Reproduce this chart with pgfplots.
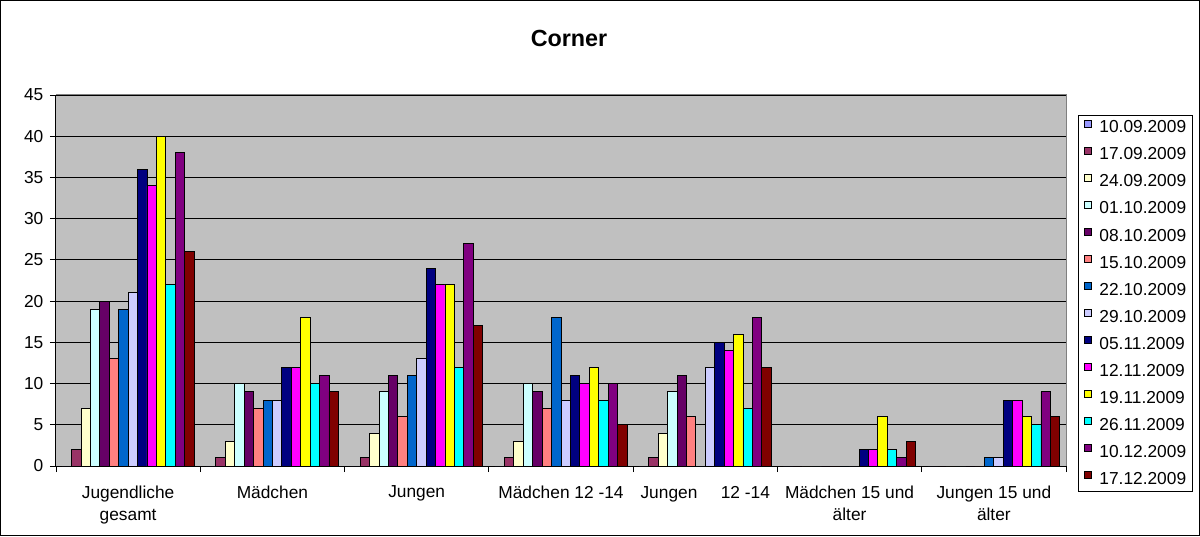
\documentclass[border=0pt]{standalone}
\usepackage{pgfplots}
\pgfplotsset{compat=1.18}
\usepackage{fontspec}
\setmainfont{Liberation Sans}
\definecolor{c1}{HTML}{9999FF}
\definecolor{c2}{HTML}{993366}
\definecolor{c3}{HTML}{FFFFCC}
\definecolor{c4}{HTML}{CCFFFF}
\definecolor{c5}{HTML}{660066}
\definecolor{c6}{HTML}{FF8080}
\definecolor{c7}{HTML}{0066CC}
\definecolor{c8}{HTML}{CCCCFF}
\definecolor{c9}{HTML}{000080}
\definecolor{c10}{HTML}{FF00FF}
\definecolor{c11}{HTML}{FFFF00}
\definecolor{c12}{HTML}{00FFFF}
\definecolor{c13}{HTML}{800080}
\definecolor{c14}{HTML}{800000}
\definecolor{plotbg}{HTML}{C0C0C0}
\pgfplotsset{
  mybar/.style={fill=#1, draw=black, line width=0.6pt,
    legend image code/.code={\draw[fill=#1,draw=black,line width=0.5pt] (0pt,0.6pt) rectangle (5.25pt,5.85pt);}},
}
\begin{document}
\begin{tikzpicture}
\fill[white] (0,0) rectangle (900pt,402pt);
\draw[black, line width=0.75pt] (0.375pt,0.375pt) rectangle (899.625pt,401.625pt);
\node[font=\fontsize{17.5}{20}\selectfont\bfseries, anchor=base] at (426.75pt,367pt) {Corner};
\begin{axis}[
  at={(42pt,52.5pt)}, anchor=south west,
  scale only axis, width=757.5pt, height=278.25pt,
  ybar=0pt, bar width=7.07pt,
  xmin=-0.5, xmax=6.5, ymin=0, ymax=45,
  ytick={0,5,...,45},
  xtick={0,...,6},
  xticklabels={{Jugendliche\\gesamt},{Mädchen},{Jungen},{Mädchen 12 -14},{Jungen\hspace{1.35em}12 -14},{Mädchen 15 und\\älter},{Jungen 15 und\\älter}},
  minor xtick={-0.5,0.5,...,6.5},
  major x tick style={draw=none},
  minor x tick style={draw=black, line width=0.6pt},
  ytick style={draw=black, line width=0.6pt},
  major tick length=4.5pt, minor tick length=4.5pt,
  tick align=outside,
  axis lines*=left,
  axis line style={line width=0.75pt, black},
  axis background/.style={fill=plotbg},
  ymajorgrids, grid style={black, line width=0.6pt},
  /pgf/number format/assume math mode=true,
  tick label style={font=\fontsize{13}{16.3}\selectfont},
  yticklabel style={xshift=-1.5pt},
  xticklabel style={align=center, yshift=-7pt},
  clip=false,
  legend style={at={(1.0119,0.946)}, anchor=north west, draw=black, fill=white, line width=0.6pt,
    font=\fontsize{13}{15}\selectfont, row sep=7.7pt, inner xsep=4pt, inner ysep=3pt,
    nodes={inner sep=1pt},
    /tikz/every odd column/.append style={column sep=5pt}},
  legend cell align=left,
  after end axis/.code={\draw[gray, line width=0.75pt] (rel axis cs:0,1) -- (rel axis cs:1,1) -- (rel axis cs:1,0);},
]
\addplot[mybar=c1] coordinates {(0,0) (1,0) (2,0) (3,0) (4,0) (5,0) (6,0)};
\addplot[mybar=c2] coordinates {(0,2) (1,1) (2,1) (3,1) (4,1) (5,0) (6,0)};
\addplot[mybar=c3] coordinates {(0,7) (1,3) (2,4) (3,3) (4,4) (5,0) (6,0)};
\addplot[mybar=c4] coordinates {(0,19) (1,10) (2,9) (3,10) (4,9) (5,0) (6,0)};
\addplot[mybar=c5] coordinates {(0,20) (1,9) (2,11) (3,9) (4,11) (5,0) (6,0)};
\addplot[mybar=c6] coordinates {(0,13) (1,7) (2,6) (3,7) (4,6) (5,0) (6,0)};
\addplot[mybar=c7] coordinates {(0,19) (1,8) (2,11) (3,18) (4,0) (5,0) (6,1)};
\addplot[mybar=c8] coordinates {(0,21) (1,8) (2,13) (3,8) (4,12) (5,0) (6,1)};
\addplot[mybar=c9] coordinates {(0,36) (1,12) (2,24) (3,11) (4,15) (5,2) (6,8)};
\addplot[mybar=c10] coordinates {(0,34) (1,12) (2,22) (3,10) (4,14) (5,2) (6,8)};
\addplot[mybar=c11] coordinates {(0,40) (1,18) (2,22) (3,12) (4,16) (5,6) (6,6)};
\addplot[mybar=c12] coordinates {(0,22) (1,10) (2,12) (3,8) (4,7) (5,2) (6,5)};
\addplot[mybar=c13] coordinates {(0,38) (1,11) (2,27) (3,10) (4,18) (5,1) (6,9)};
\addplot[mybar=c14] coordinates {(0,26) (1,9) (2,17) (3,5) (4,12) (5,3) (6,6)};
\legend{10.09.2009,17.09.2009,24.09.2009,01.10.2009,08.10.2009,15.10.2009,22.10.2009,29.10.2009,05.11.2009,12.11.2009,19.11.2009,26.11.2009,10.12.2009,17.12.2009}
\end{axis}
\end{tikzpicture}
\end{document}
